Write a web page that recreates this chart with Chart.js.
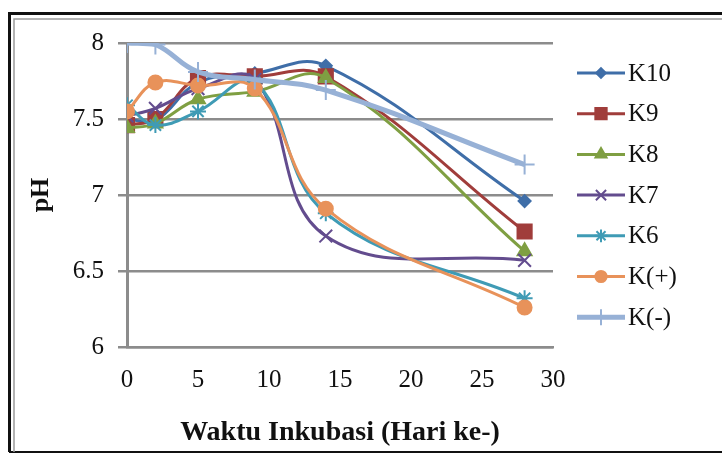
<!DOCTYPE html>
<html>
<head>
<meta charset="utf-8">
<script src="https://cdn.jsdelivr.net/npm/chart.js@4.4.1/dist/chart.umd.min.js"></script>
<style>
  html, body { margin: 0; padding: 0; background: #fff; }
</style>
</head>
<body>
<canvas id="ph-chart" width="722" height="455"></canvas>
<script>
// Day of incubation where pH was measured
const days = [0, 2, 5, 9, 14, 28];

// pH values, one array per sample
const k10 = [7.50, 7.49, 7.74, 7.80, 7.85, 6.96];
const k9 = [7.46, 7.50, 7.77, 7.78, 7.78, 6.76];
const k8 = [7.44, 7.47, 7.63, 7.68, 7.77, 6.63];
const k7 = [7.52, 7.57, 7.70, 7.76, 6.73, 6.57];
const k6 = [7.59, 7.46, 7.55, 7.74, 6.88, 6.32];
const kPlus = [7.55, 7.74, 7.72, 7.70, 6.91, 6.26];
const kMinus = [8.00, 7.99, 7.81, 7.76, 7.69, 7.20];

const seriesNames = ['K10', 'K9', 'K8', 'K7', 'K6', 'K(+)', 'K(-)'];
const seriesValues = [k10, k9, k8, k7, k6, kPlus, kMinus];

// Axis ticks
const xTicks = [0, 5, 10, 15, 20, 25, 30];
const yTicks = [6, 6.5, 7, 7.5, 8];

// Excel-ish look for each series
const styles = [
    { color: '#3f6ea8', point: 'rectRot', radius: 6, width: 3 },
    { color: '#a03d3b', point: 'rect', radius: 10, width: 3 },
    { color: '#7f9f42', point: 'triangle', radius: 8, width: 3 },
    { color: '#634c8e', point: 'crossRot', radius: 9, width: 3 },
    { color: '#3f9bb5', point: 'star', radius: 8, width: 3 },
    { color: '#e8925a', point: 'circle', radius: 7, width: 3 },
    { color: '#97b1d6', point: 'cross', radius: 10, width: 5 }
];

const serif = '"Liberation Serif", "Times New Roman", serif';

// Build the datasets from the arrays above
const datasets = seriesNames.map((name, i) => ({
    label: name,
    data: days.map((d, j) => ({ x: d, y: seriesValues[i][j] })),
    borderColor: styles[i].color,
    backgroundColor: styles[i].color,
    borderWidth: styles[i].width,
    pointStyle: styles[i].point,
    pointRadius: styles[i].radius,
    pointBorderWidth: 2,
    pointBorderColor: styles[i].color,
    pointBackgroundColor: styles[i].color,
    tension: 0.4,
    order: seriesNames.length - 1 - i // later series sit on top, like Excel
}));

// Draws the outer frame of the picture
const framePlugin = {
    id: 'frame',
    beforeDraw(chart) {
        const ctx = chart.ctx;
        ctx.save();
        ctx.fillStyle = '#fff';
        ctx.fillRect(0, 0, chart.width, chart.height);
        ctx.restore();
    },
    afterDraw(chart) {
        const ctx = chart.ctx;
        ctx.save();
        ctx.strokeStyle = '#111';
        ctx.lineWidth = 3;
        ctx.beginPath();
        ctx.moveTo(9.5, 452);
        ctx.lineTo(9.5, 13.5);
        ctx.lineTo(722, 13.5);
        ctx.stroke();
        ctx.lineWidth = 2;
        ctx.beginPath();
        ctx.moveTo(9, 452);
        ctx.lineTo(722, 452);
        ctx.stroke();
        ctx.strokeStyle = '#9a9a9a';
        ctx.lineWidth = 1.5;
        ctx.beginPath();
        ctx.moveTo(14, 452);
        ctx.lineTo(14, 19);
        ctx.lineTo(722, 19);
        ctx.stroke();
        ctx.restore();
    }
};

// Legend on the right: a short line with the marker, then the name
const legendPlugin = {
    id: 'sideLegend',
    afterDraw(chart) {
        const ctx = chart.ctx;
        ctx.save();
        chart.data.datasets.forEach((ds, i) => {
            const y = 73 + i * 40.7;
            ctx.strokeStyle = ds.borderColor;
            ctx.fillStyle = ds.backgroundColor;
            ctx.lineWidth = ds.borderWidth;
            ctx.beginPath();
            ctx.moveTo(577, y);
            ctx.lineTo(625, y);
            ctx.stroke();
            ctx.lineWidth = 2;
            Chart.helpers.drawPoint(ctx, {
                pointStyle: ds.pointStyle,
                radius: ds.pointRadius * 0.8,
                borderWidth: 2,
                rotation: 0
            }, 601, y);
            ctx.fillStyle = '#111';
            ctx.font = '25px ' + serif;
            ctx.textBaseline = 'middle';
            ctx.textAlign = 'left';
            ctx.fillText(ds.label, 628, y + 1);
        });
        ctx.restore();
    }
};

const ctx = document.getElementById('ph-chart').getContext('2d');
const myChart = new Chart(ctx, {
    type: 'line',
    data: { datasets: datasets },
    options: {
        responsive: false,
        animation: false,
        layout: { padding: { left: 14, right: 169, top: 43, bottom: 5 } },
        plugins: {
            legend: { display: false },
            tooltip: { enabled: false }
        },
        scales: {
            x: {
                type: 'linear',
                min: 0,
                max: 30,
                afterBuildTicks: (axis) => { axis.ticks = xTicks.map(v => ({ value: v })); },
                afterFit: (axis) => { axis.height = 103; },
                grid: { drawOnChartArea: false, drawTicks: false, color: '#8c8c8c' },
                border: { display: true, color: '#8c8c8c', width: 2.5 },
                ticks: { color: '#111', font: { family: serif, size: 25 }, padding: 18, maxRotation: 0 },
                title: {
                    display: true,
                    text: 'Waktu Inkubasi (Hari ke-)',
                    color: '#111',
                    font: { family: serif, size: 28, weight: 'bold' },
                    padding: { top: 0, bottom: 0 }
                }
            },
            y: {
                min: 6,
                max: 8,
                afterBuildTicks: (axis) => { axis.ticks = yTicks.map(v => ({ value: v })); },
                afterFit: (axis) => { axis.width = 113; },
                grid: { color: '#8c8c8c', lineWidth: 2.5, tickLength: 9 },
                border: { display: true, color: '#8c8c8c', width: 3 },
                ticks: {
                    color: '#111',
                    font: { family: serif, size: 25 },
                    padding: 14,
                    callback: (value) => String(value)
                },
                title: {
                    display: true,
                    text: 'pH',
                    color: '#111',
                    font: { family: serif, size: 26, weight: 'bold' },
                    padding: { top: 12, bottom: 0 }
                }
            }
        }
    },
    plugins: [framePlugin, legendPlugin]
});
</script>
</body>
</html>
